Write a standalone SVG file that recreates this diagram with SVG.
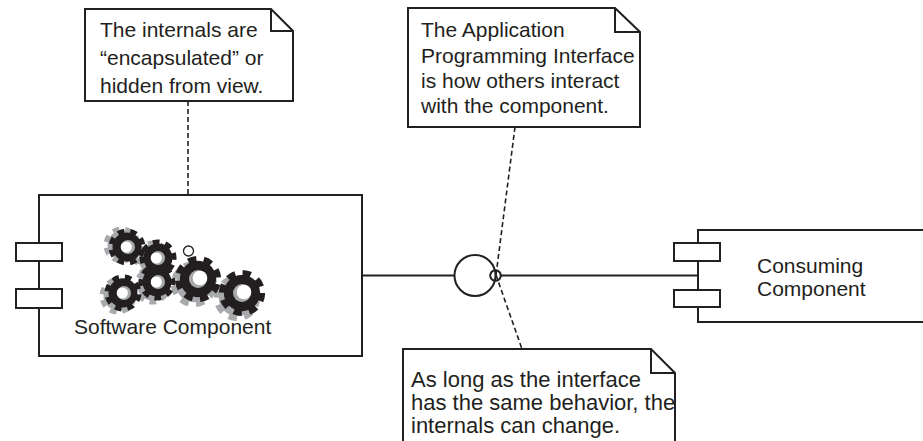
<svg xmlns="http://www.w3.org/2000/svg" width="923" height="441" viewBox="0 0 923 441">
  <style>
    .ln { fill: none; stroke: #231f20; stroke-width: 2; }
    .box { fill: #fff; stroke: #231f20; stroke-width: 2; }
    .dash { fill: none; stroke: #231f20; stroke-width: 1.6; stroke-dasharray: 5 3; }
    .fold { fill: none; stroke: #231f20; stroke-width: 2; }
    text { font-family: "Liberation Sans", Arial, sans-serif; fill: #231f20; font-size: 21px; }
    .big { font-size: 22px; }
    .shadow { color: #a7a9ac; }
    .cog { color: #231f20; }
    .hole-s { fill: #a7a9ac; }
    .hole-w { fill: #fff; }
  </style>
  <defs>
    <!-- a cog: filled body plus a dashed thick ring giving 8 teeth (ring length 2*pi*16 = 100.53) -->
    <g id="gear">
      <circle r="14.5" fill="currentColor"/>
      <circle r="16" fill="none" stroke="currentColor" stroke-width="5" stroke-dasharray="6.6 5.966"/>
    </g>
  </defs>

  <rect width="923" height="441" fill="#fff"/>

  <!-- connectors -->
  <g id="connectors">
    <line class="ln" x1="362" y1="275.5" x2="455" y2="275.5"/>
    <line class="ln" x1="501" y1="275.5" x2="698" y2="275.5"/>
    <line class="dash" x1="188" y1="101" x2="188" y2="246"/>
    <line class="dash" x1="515" y1="127" x2="496" y2="275"/>
    <line class="dash" x1="496" y1="275" x2="522" y2="349"/>
  </g>

  <!-- software component with its internal cogs -->
  <g id="software-component">
    <rect class="box" x="39" y="195" width="323" height="161"/>
    <rect class="box" x="16" y="243" width="46" height="18"/>
    <rect class="box" x="16" y="289" width="46" height="19"/>
    <g id="cogs">
      <!-- shadows -->
      <use href="#gear" class="shadow" transform="translate(122,245) rotate(10)"/>
      <use href="#gear" class="shadow" transform="translate(153,259) rotate(25)"/>
      <use href="#gear" class="shadow" transform="translate(118,296) rotate(5)"/>
      <use href="#gear" class="shadow" transform="translate(152,286) rotate(30)"/>
      <use href="#gear" class="shadow" transform="translate(194,284) rotate(15) scale(1.25)"/>
      <use href="#gear" class="shadow" transform="translate(237,298) rotate(0) scale(1.25)"/>
      <!-- cogs -->
      <use href="#gear" class="cog" transform="translate(127,247) rotate(10)"/>
      <use href="#gear" class="cog" transform="translate(158,258) rotate(25)"/>
      <use href="#gear" class="cog" transform="translate(123,293) rotate(5)"/>
      <use href="#gear" class="cog" transform="translate(157,282) rotate(30)"/>
      <use href="#gear" class="cog" transform="translate(198,279) rotate(15) scale(1.25)"/>
      <use href="#gear" class="cog" transform="translate(242,293) rotate(0) scale(1.25)"/>
      <!-- axle holes -->
      <circle class="hole-s" cx="128" cy="247" r="7"/>
      <circle class="hole-w" cx="126.3" cy="247" r="5.6"/>
      <circle class="hole-s" cx="158" cy="258" r="7"/>
      <circle class="hole-w" cx="156.3" cy="258" r="5.6"/>
      <circle class="hole-s" cx="124" cy="293" r="7"/>
      <circle class="hole-w" cx="122.3" cy="293" r="5.6"/>
      <circle class="hole-s" cx="158" cy="282" r="7"/>
      <circle class="hole-w" cx="156.3" cy="282" r="5.6"/>
      <circle class="hole-s" cx="198" cy="279" r="9"/>
      <circle class="hole-w" cx="200" cy="278" r="7.3"/>
      <circle class="hole-s" cx="242" cy="293" r="9"/>
      <circle class="hole-w" cx="244" cy="292" r="7.3"/>
    </g>
    <circle cx="188.5" cy="251" r="5" fill="#fff" stroke="#231f20" stroke-width="1.3"/>
    <text x="74" y="334">Software Component</text>
  </g>

  <!-- provided interface: lollipop and socket -->
  <g id="interface">
    <circle class="ln" cx="475" cy="275.5" r="20.5"/>
    <circle class="ln" cx="495.5" cy="275.5" r="5.3" stroke-width="1.8"/>
  </g>

  <!-- consuming component -->
  <g id="consuming-component">
    <rect class="box" x="698" y="230" width="240" height="92"/>
    <rect class="box" x="674" y="243" width="46" height="18"/>
    <rect class="box" x="674" y="290" width="46" height="17"/>
    <text x="757" y="273">Consuming</text>
    <text x="757" y="296">Component</text>
  </g>

  <!-- note: encapsulation -->
  <g id="note-internals">
    <path class="box" d="M85,9 H271 L293,31 V101 H85 Z"/>
    <path class="fold" d="M271,9 V31 H293"/>
    <text x="100" y="37">The internals are</text>
    <text x="100" y="65">“encapsulated” or</text>
    <text x="100" y="93">hidden from view.</text>
  </g>

  <!-- note: API -->
  <g id="note-api">
    <path class="box" d="M408,8 H615 L640,32 V127 H408 Z"/>
    <path class="fold" d="M615,8 V32 H640"/>
    <text x="421" y="37">The Application</text>
    <text x="421" y="63">Programming Interface</text>
    <text x="421" y="88">is how others interact</text>
    <text x="421" y="113">with the component.</text>
  </g>

  <!-- note: behaviour -->
  <g id="note-change">
    <path class="box" d="M403,445 V349 H651 L675,373 V445"/>
    <path class="fold" d="M651,349 V373 H675"/>
    <text class="big" x="411" y="387">As long as the interface</text>
    <text class="big" x="411" y="410">has the same behavior, the</text>
    <text class="big" x="411" y="433">internals can change.</text>
  </g>
</svg>
